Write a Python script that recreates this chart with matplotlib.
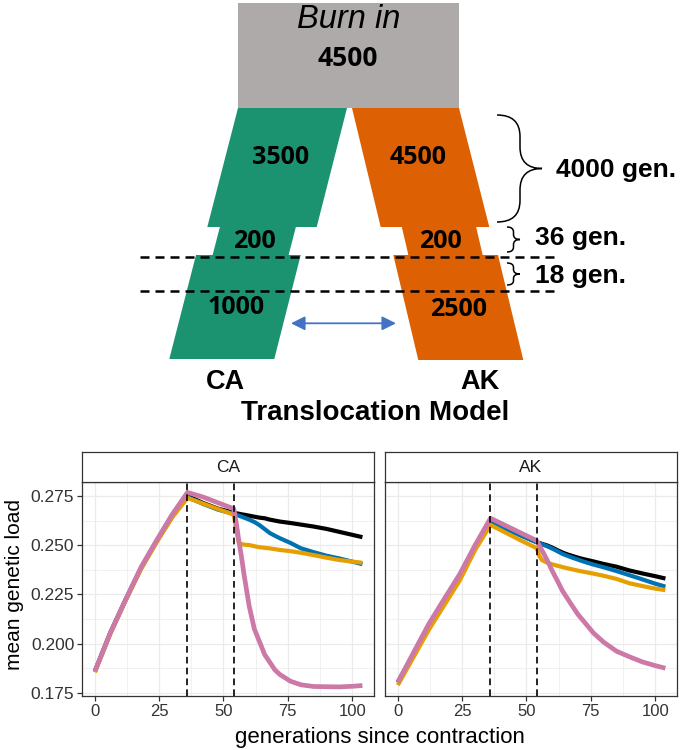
import matplotlib
matplotlib.use("Agg")
import matplotlib.pyplot as plt
from matplotlib.patches import Polygon, Rectangle, PathPatch
from matplotlib.path import Path

# ---- data ----
# demographic model (top diagram)
burn_in_size = 4500
ca_sizes = [3500, 200, 1000]
ak_sizes = [4500, 200, 2500]
phase_gens = [4000, 36, 18]
pop_names = ["CA", "AK"]

# mean genetic load after contraction (bottom panels)
gens = [0, 6, 12, 18, 24, 30, 36, 42, 48, 54, 55, 56, 57, 58, 60, 62, 64, 66,
        68, 70, 72, 76, 80, 85, 90, 95, 100, 104]
event_gens = [36, 54]

ca_black = [0.186, 0.2055, 0.2225, 0.2385, 0.252, 0.2645, 0.275, 0.2715, 0.2685, 0.2665,
            0.2662, 0.266, 0.2657, 0.2655, 0.265, 0.2645, 0.264, 0.2637, 0.263, 0.2625,
            0.262, 0.2613, 0.2605, 0.2595, 0.2583, 0.2568, 0.2553, 0.2541]
ca_blue = [0.186, 0.2055, 0.2225, 0.2385, 0.252, 0.2645, 0.2745, 0.271, 0.268, 0.266,
           0.2655, 0.265, 0.2645, 0.264, 0.263, 0.2618, 0.2602, 0.2582, 0.2562, 0.2548,
           0.2535, 0.2512, 0.2485, 0.2465, 0.2447, 0.2433, 0.2417, 0.2404]
ca_orange = [0.1855, 0.205, 0.222, 0.238, 0.2515, 0.264, 0.274, 0.2712, 0.2683, 0.2655,
             0.2575, 0.251, 0.2506, 0.2503, 0.2501, 0.2495, 0.249, 0.2487, 0.2484, 0.248,
             0.2476, 0.247, 0.2462, 0.245, 0.2437, 0.2425, 0.2417, 0.2411]
ca_pink = [0.186, 0.2055, 0.2225, 0.239, 0.2525, 0.2655, 0.2768, 0.2745, 0.2715, 0.2685,
           0.261, 0.252, 0.244, 0.235, 0.219, 0.2075, 0.201, 0.1945, 0.1906, 0.1867,
           0.1843, 0.181, 0.1792, 0.1783, 0.1782, 0.1781, 0.1784, 0.1788]

ak_black = [0.1805, 0.1945, 0.2088, 0.2217, 0.2342, 0.249, 0.262, 0.2585, 0.255, 0.2515,
            0.2511, 0.2507, 0.2503, 0.2499, 0.2488, 0.2475, 0.2463, 0.2453, 0.2445, 0.2437,
            0.243, 0.2418, 0.2405, 0.2391, 0.2372, 0.2357, 0.2343, 0.2331]
ak_blue = [0.1803, 0.1943, 0.2085, 0.2215, 0.234, 0.2487, 0.2618, 0.2583, 0.2548, 0.2515,
           0.251, 0.2505, 0.25, 0.2495, 0.2483, 0.247, 0.2456, 0.2446, 0.2436, 0.2427,
           0.2418, 0.2402, 0.2388, 0.2369, 0.2348, 0.2327, 0.2305, 0.229]
ak_orange = [0.179, 0.193, 0.207, 0.2195, 0.232, 0.2475, 0.2603, 0.2563, 0.2523, 0.2485,
             0.2445, 0.2425, 0.2418, 0.2412, 0.2403, 0.2396, 0.2389, 0.2383, 0.2377, 0.2371,
             0.2366, 0.2356, 0.2345, 0.2329, 0.2307, 0.2293, 0.228, 0.2272]
ak_pink = [0.1805, 0.1953, 0.21, 0.2227, 0.2352, 0.25, 0.2637, 0.2599, 0.2561, 0.2523,
           0.2498, 0.2474, 0.245, 0.2425, 0.237, 0.232, 0.2268, 0.2228, 0.2188, 0.2149,
           0.2118, 0.2055, 0.2008, 0.1962, 0.1934, 0.1908, 0.1889, 0.1876]

line_colors = ["#000000", "#0072B2", "#E69F00", "#CC79A7"]
line_widths = [3.0, 3.0, 3.0, 3.4]

GREEN = "#1B9371"
ORANGE = "#DD6002"
GREY = "#AEAAAA"
NUM_FONT = "Open Sans"
LAB_FONT = "Liberation Sans"


def draw_brace(ax, x_arm, x_mid, x_tip, y_top, y_bot):
    # right-pointing curly brace in pixel coords (y grows downwards)
    y_c = (y_top + y_bot) / 2
    r = min(x_mid - x_arm, (y_bot - y_top) / 5)
    verts = [(x_arm, y_top), (x_mid, y_top), (x_mid, y_top + r),
             (x_mid, y_c - r), (x_mid, y_c), (x_tip, y_c),
             (x_mid, y_c), (x_mid, y_c + r),
             (x_mid, y_bot - r), (x_mid, y_bot), (x_arm, y_bot)]
    codes = [Path.MOVETO, Path.CURVE3, Path.CURVE3,
             Path.LINETO, Path.CURVE3, Path.CURVE3,
             Path.CURVE3, Path.CURVE3,
             Path.LINETO, Path.CURVE3, Path.CURVE3]
    ax.add_patch(PathPatch(Path(verts, codes), fill=False, lw=1.1, color="black"))


def slanted(ax, y0, y1, xl0, xr0, xl1, xr1, color):
    ax.add_patch(Polygon([(xl0, y0), (xr0, y0), (xr1, y1), (xl1, y1)],
                         closed=True, color=color, lw=0))


## Part 1: the translocation model diagram (pixel coordinates)
fig = plt.figure(figsize=(6.84, 7.5), dpi=100)
ax_d = fig.add_axes([0, 0, 1, 1])
ax_d.set_xlim(0, 684)
ax_d.set_ylim(750, 0)
ax_d.axis("off")

ax_d.add_patch(Rectangle((238, 3), 221, 105, color=GREY, lw=0))
ax_d.text(349, 20, "Burn in", ha="center", va="center", fontsize=23.5,
          style="italic", family=LAB_FONT)
ax_d.text(348, 58, str(burn_in_size), ha="center", va="center", fontsize=19,
          weight="bold", family=NUM_FONT)

# CA branch (three phases)
slanted(ax_d, 108, 227, 238, 347, 207.3, 316.7, GREEN)
slanted(ax_d, 226.5, 255.5, 220, 296, 212.5, 288.5, GREEN)
slanted(ax_d, 255, 359, 196, 300.7, 169.3, 274.3, GREEN)
# AK branch
slanted(ax_d, 108, 227, 352, 459, 380.7, 489.3, ORANGE)
slanted(ax_d, 226.5, 255.5, 401.7, 476, 408.5, 482.8, ORANGE)
slanted(ax_d, 255, 360, 393.3, 498, 418.3, 523.3, ORANGE)

ca_pos = [(281, 158), (254, 241), (236, 307)]
ak_pos = [(418, 158), (440, 242), (459, 309)]
for (x, y), n in zip(ca_pos, ca_sizes):
    ax_d.text(x, y, str(n), ha="center", va="center", fontsize=18,
              weight="bold", family=NUM_FONT)
for (x, y), n in zip(ak_pos, ak_sizes):
    ax_d.text(x, y, str(n), ha="center", va="center", fontsize=18,
              weight="bold", family=NUM_FONT)

# dashed lines marking the translocation window
for y in [257.3, 290.7]:
    ax_d.plot([140, 557], [y, y], color="black", lw=1.8, dashes=(3.6, 2.4))

# migration arrow
ax_d.annotate("", xy=(291, 323.3), xytext=(396, 323.3),
              arrowprops=dict(arrowstyle="<|-|>", color="#4472C4", lw=1.3,
                              mutation_scale=21, shrinkA=0, shrinkB=0))

# braces with generation counts
draw_brace(ax_d, 497, 520, 542, 115, 222)
draw_brace(ax_d, 507, 513.5, 520, 227, 252)
draw_brace(ax_d, 507, 513.5, 520, 263, 285)
brace_y = [170.5, 238.5, 275.5]
brace_x = [556, 535, 535]
for x, y, g in zip(brace_x, brace_y, phase_gens):
    ax_d.text(x, y, "{0} gen.".format(g), ha="left", va="center", fontsize=19,
              weight="bold", family=LAB_FONT)

ax_d.text(225, 382, pop_names[0], ha="center", va="center", fontsize=19.5,
          weight="bold", family=LAB_FONT)
ax_d.text(480, 382, pop_names[1], ha="center", va="center", fontsize=19.5,
          weight="bold", family=LAB_FONT)
ax_d.text(375, 412.5, "Translocation Model", ha="center", va="center", fontsize=20,
          weight="bold", family=LAB_FONT)


## Part 2: genetic load panels (ggplot-like facets)
W, H = 684.0, 750.0
panel_top, panel_bot, strip_top = 482, 696, 452
panels = [(82, 374), (385, 677)]
panel_data = [[ca_black, ca_blue, ca_orange, ca_pink],
              [ak_black, ak_blue, ak_orange, ak_pink]]

for i, ((x0, x1), series) in enumerate(zip(panels, panel_data)):
    ax = fig.add_axes([x0 / W, 1 - panel_bot / H, (x1 - x0) / W, (panel_bot - panel_top) / H])
    for vals, c, lw in zip(series, line_colors, line_widths):
        ax.plot(gens, vals, color=c, lw=lw, solid_capstyle="butt", zorder=3)
    for g in event_gens:
        ax.axvline(g, color="black", lw=1.2, dashes=(4, 2.5), zorder=4)

    ax.set_xlim(-5.0, 108.5)
    ax.set_ylim(0.17348, 0.2821)
    ax.set_xticks([0, 25, 50, 75, 100])
    ax.set_xticks([12.5, 37.5, 62.5, 87.5], minor=True)
    ax.set_yticks([0.175, 0.2, 0.225, 0.25, 0.275])
    ax.set_yticks([0.1875, 0.2125, 0.2375, 0.2625], minor=True)
    ax.grid(which="major", color="#EBEBEB", lw=0.9, zorder=0)
    ax.grid(which="minor", color="#EBEBEB", lw=0.5, zorder=0)
    ax.set_axisbelow(True)
    for sp in ax.spines.values():
        sp.set_color("#333333")
        sp.set_linewidth(0.9)
    ax.tick_params(which="minor", length=0)
    ax.tick_params(which="major", length=3.5, width=0.9, color="#333333",
                   labelsize=12, labelcolor="#333333", pad=2)
    ax.tick_params(axis="y", labelsize=12.5)
    for lab in ax.get_xticklabels() + ax.get_yticklabels():
        lab.set_family(LAB_FONT)
    if i == 0:
        ax.set_yticklabels(["0.175", "0.200", "0.225", "0.250", "0.275"])
    else:
        ax.tick_params(axis="y", left=False, labelleft=False)

    # facet strip
    ax_s = fig.add_axes([x0 / W, 1 - panel_top / H, (x1 - x0) / W, (panel_top - strip_top) / H])
    ax_s.set_xticks([])
    ax_s.set_yticks([])
    for sp in ax_s.spines.values():
        sp.set_color("#333333")
        sp.set_linewidth(0.9)
    ax_s.text(0.5, 0.5, pop_names[i], ha="center", va="center", fontsize=12.5,
              family=LAB_FONT, color="#1A1A1A", transform=ax_s.transAxes)

fig.text(380 / W, 1 - 737 / H, "generations since contraction", ha="center", va="center",
         fontsize=16, family=LAB_FONT)
fig.text(15 / W, 1 - 584 / H, "mean genetic load", ha="center", va="center",
         rotation=90, fontsize=15, family=LAB_FONT)

plt.savefig("out.png", dpi=100)
